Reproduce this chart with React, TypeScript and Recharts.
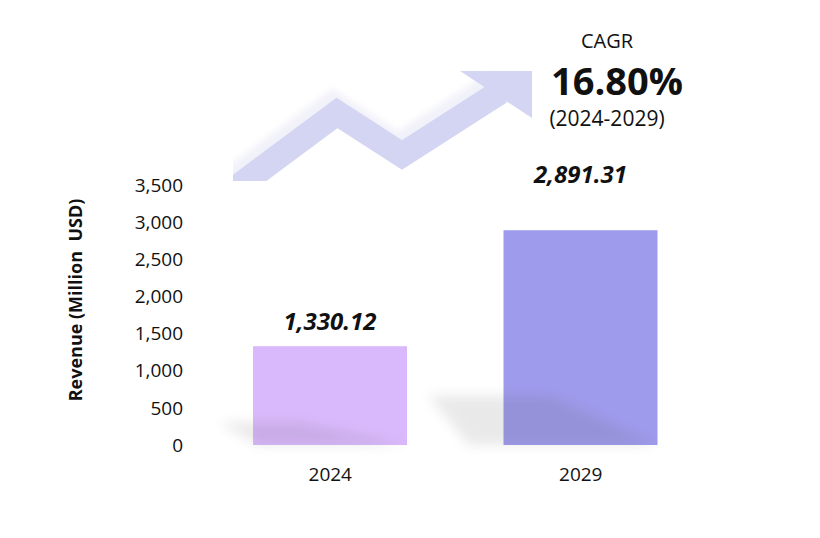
import React from 'react';
import { BarChart, Bar, XAxis, YAxis, LabelList, Customized } from 'recharts';

const years = ['2024', '2029'];
const revenue = [1330.12, 2891.31];
const barColors = ['#D9B9FB', '#9F9BEC'];
const yTicks = [0, 500, 1000, 1500, 2000, 2500, 3000, 3500];
const cagrTitle = 'CAGR';
const cagrValue = '16.80%';
const cagrPeriod = '(2024-2029)';
const yLabel = 'Revenue (Million  USD)';

const data = years.map((y, i) => ({ year: y, value: revenue[i] }));

const FONT = '"Open Sans", "Noto Sans", sans-serif';

const fmt = (v: number) =>
  v.toLocaleString('en-US', { minimumFractionDigits: 2, maximumFractionDigits: 2 });

const BarShape = (props: any) => {
  const { x, y, width, height, index } = props;
  const bottom = y + height;
  const sh = height * 0.23;
  const dx = height * 0.35;
  const shadow = `${x - dx},${bottom - sh} ${x + width * 0.3},${bottom - sh} ${x + width},${bottom} ${x - dx + 40},${bottom}`;
  return (
    <g>
      <rect x={x} y={y} width={width} height={height} fill={barColors[index % barColors.length]} />
      <polygon points={shadow} fill="#555" opacity={0.12} filter="url(#shadowBlur)" />
    </g>
  );
};

const ValueLabel = (props: any) => {
  const { x, y, width, value, index } = props;
  const off = index === 1 ? 47 : 16;
  return (
    <text
      x={x + width / 2}
      y={y - off}
      textAnchor="middle"
      fontFamily={FONT}
      fontSize={24}
      fontWeight="bold"
      fontStyle="italic"
      fill="#111"
    >
      {fmt(value)}
    </text>
  );
};

const arrowPts = '205,211 337,113 402,155 500,92';

const Decor = () => (
  <g>
    <defs>
      <clipPath id="arrowClip">
        <rect x={233} y={0} width={400} height={181} />
      </clipPath>
      <filter id="shadowBlur" x="-50%" y="-50%" width="200%" height="200%">
        <feGaussianBlur stdDeviation="6" />
      </filter>
      <filter id="ghostBlur" x="-20%" y="-20%" width="140%" height="140%">
        <feGaussianBlur stdDeviation="3" />
      </filter>
    </defs>
    <g clipPath="url(#arrowClip)">
      <g transform="translate(-4,-9)" opacity={0.25} filter="url(#ghostBlur)">
        <polyline points={arrowPts} fill="none" stroke="#c8c8e8" strokeWidth={25} strokeLinejoin="miter" />
      </g>
      <polyline points={arrowPts} fill="none" stroke="#D4D4F3" strokeWidth={25} strokeLinejoin="miter" />
      <polygon points="460,71 532,71 532,118" fill="#D4D4F3" />
    </g>
    <text x={607} y={48} textAnchor="middle" fontFamily={FONT} fontSize={20} fill="#111">
      {cagrTitle}
    </text>
    <text x={617} y={95} textAnchor="middle" fontFamily={FONT} fontSize={38} fontWeight="bold" fill="#111">
      {cagrValue}
    </text>
    <text x={607} y={126} textAnchor="middle" fontFamily={FONT} fontSize={21} fill="#111">
      {cagrPeriod}
    </text>
    <text
      x={75}
      y={300}
      transform="rotate(-90, 75, 300)"
      textAnchor="middle"
      dominantBaseline="central"
      fontFamily={FONT}
      fontSize={18}
      fontWeight="bold"
      fill="#111"
      style={{ whiteSpace: 'pre' }}
    >
      {yLabel}
    </text>
  </g>
);

export default function App() {
  return (
    <div style={{ position: 'absolute', left: 0, top: 0, width: 820, height: 538, background: '#fff' }}>
      <BarChart
        width={820}
        height={538}
        data={data}
        margin={{ top: 185, right: 114, bottom: 63, left: 0 }}
        barSize={154}
      >
        <Customized component={Decor} />
        <XAxis
          dataKey="year"
          axisLine={false}
          tickLine={false}
          tickMargin={17}
          tick={{ fontFamily: FONT, fontSize: 19, fill: '#111' }}
        />
        <YAxis
          width={205}
          domain={[0, 3500]}
          ticks={yTicks}
          axisLine={false}
          tickLine={false}
          tickMargin={16}
          tickFormatter={(v: number) => v.toLocaleString('en-US')}
          tick={{ fontFamily: FONT, fontSize: 19, fill: '#111' }}
        />
        <Bar dataKey="value" isAnimationActive={false} shape={BarShape}>
          <LabelList dataKey="value" content={ValueLabel} />
        </Bar>
      </BarChart>
    </div>
  );
}
